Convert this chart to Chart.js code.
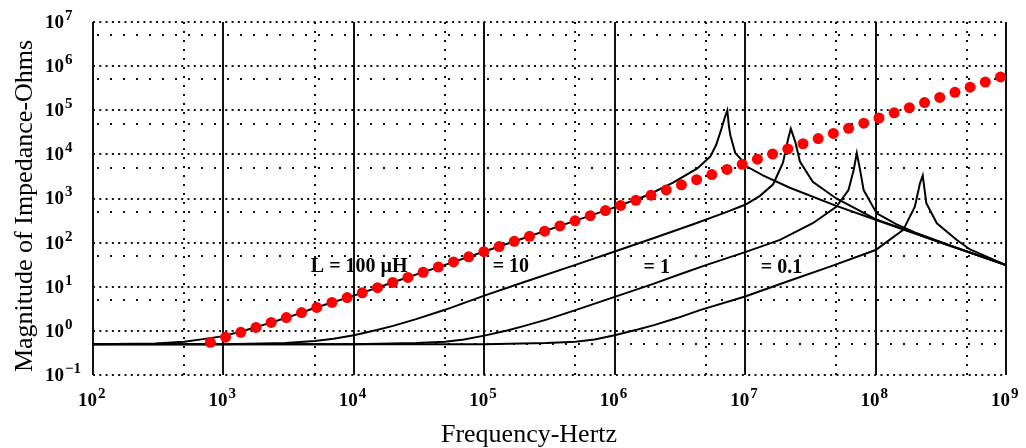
<!DOCTYPE html>
<html>
<head>
<meta charset="utf-8">
<title>Inductor impedance</title>
<script src="https://cdn.jsdelivr.net/npm/chart.js@4.4.0/dist/chart.umd.min.js"></script>
<style>
    html, body { margin: 0; padding: 0; background: #fff; }
    #wrap { position: relative; width: 1026px; height: 448px; }
</style>
</head>
<body>
<div id="wrap"><canvas id="impedanceChart"></canvas></div>
<script>
// frequency in Hz, impedance in ohms

const freq100uH = [1e2, 3e2, 5e2, 7e2, 1e3, 1.5e3, 2e3, 3e3, 5e3, 1e4, 2e4, 5e4, 1e5, 2e5, 5e5, 1e6,
    1.8e6, 2.8e6, 4.3e6, 5.4e6, 6.0e6, 6.6e6, 7.0e6, 7.3e6, 7.5e6, 7.7e6, 8.4e6, 9.4e6, 1.03e7,
    1.38e7, 2.2e7, 5e7, 1e8, 3e8, 1e9];
const imp100uH = [0.5, 0.52, 0.57, 0.65, 0.76, 1.05, 1.35, 1.95, 3.3, 6.3, 12.6, 31.4, 63, 126, 316, 630,
    1200, 2300, 4800, 8900, 16500, 39000, 70000, 100000, 45000, 27000, 10700, 7500, 5300,
    3300, 1750, 680, 330, 106, 31];

const freq10uH = [1e2, 1e3, 3e3, 5e3, 7e3, 1e4, 1.5e4, 2e4, 3e4, 5e4, 1e5, 2e5, 5e5, 1e6, 2e6, 4e6,
    7e6, 1e7, 1.3e7, 1.64e7, 1.95e7, 2.14e7, 2.24e7, 2.42e7, 2.63e7, 3.3e7, 5e7, 1e8, 3e8, 1e9];
const imp10uH = [0.5, 0.5, 0.53, 0.59, 0.66, 0.8, 1.05, 1.3, 1.85, 3.0, 6.3, 12.6, 31.4, 63, 127, 260,
    480, 720, 1150, 2100, 6500, 23000, 38000, 19500, 6900, 2400, 1000, 340, 106, 31];

const freq1uH = [1e2, 1e4, 3e4, 5e4, 7e4, 1e5, 1.5e5, 2e5, 3e5, 5e5, 1e6, 2e6, 3.2e6, 5e6, 1e7, 1.85e7,
    3.3e7, 5e7, 6.2e7, 6.8e7, 7.18e7, 7.6e7, 8.1e7, 1.02e8, 1.45e8, 2e8, 4e8, 1e9];
const imp1uH = [0.5, 0.5, 0.53, 0.57, 0.64, 0.78, 1.02, 1.28, 1.8, 2.95, 5.9, 11.8, 19.5, 31, 61, 115,
    275, 650, 1550, 4500, 10700, 4500, 1550, 460, 260, 170, 80, 31];

const freq01uH = [1e2, 1e5, 3e5, 5e5, 7e5, 1e6, 1.5e6, 2e6, 3e6, 4.5e6, 1e7, 2e7, 4.47e7, 1e8, 1.63e8,
    2.0e8, 2.19e8, 2.3e8, 2.45e8, 2.95e8, 4.2e8, 5.3e8, 1e9];
const imp01uH = [0.5, 0.5, 0.53, 0.57, 0.64, 0.8, 1.07, 1.35, 1.95, 2.95, 6.0, 12.5, 28.5, 68, 195,
    650, 2200, 3300, 780, 275, 115, 70, 31];

// red dots: 100 uH without the winding capacitance
const dotFreq = [794, 1039, 1358, 1776, 2323, 3037, 3972, 5194, 6792, 8882,
    11610, 15190, 19860, 25970, 33960, 44410, 58080, 75950, 99310, 129900,
    169800, 222100, 290400, 379800, 496600, 649400, 849200, 1.11e6, 1.452e6, 1.899e6,
    2.483e6, 3.248e6, 4.246e6, 5.553e6, 7.261e6, 9.495e6, 1.242e7, 1.624e7, 2.123e7, 2.776e7,
    3.631e7, 4.748e7, 6.209e7, 8.12e7, 1.062e8, 1.388e8, 1.816e8, 2.374e8, 3.105e8, 4.06e8,
    5.309e8, 6.942e8, 9.078e8];
const dotImp = [0.55, 0.72, 0.93, 1.2, 1.55, 2.0, 2.6, 3.4, 4.4, 5.7,
    7.3, 9.5, 12.5, 16.3, 21.3, 27.9, 36.5, 47.7, 62.4, 81.6,
    107, 139, 182, 239, 312, 408, 533, 697, 912, 1190,
    1560, 2040, 2670, 3490, 4560, 5960, 7800, 10200, 13300, 17400,
    22800, 29800, 39000, 51000, 66700, 87200, 114000, 149000, 195000, 255000,
    333000, 436000, 570000];

// axis ticks
const xMajor = [1e2, 1e3, 1e4, 1e5, 1e6, 1e7, 1e8, 1e9];
const xExp = ["2", "3", "4", "5", "6", "7", "8", "9"];
const xMinor = [5e2, 5e3, 5e4, 5e5, 5e6, 5e7, 5e8];
const yMajor = [1e-1, 1, 1e1, 1e2, 1e3, 1e4, 1e5, 1e6, 1e7];
const yExp = ["-1", "0", "1", "2", "3", "4", "5", "6", "7"];
const yMinor = [0.5, 5, 50, 500, 5e3, 5e4, 5e5, 5e6];

// curve labels
const curveLabels = ["L = 100 \u00b5H", "= 10", "= 1", "= 0.1"];
const labelFreq = [1.1e4, 1.6e5, 2.1e6, 1.9e7];
const labelImp = [29, 28, 27, 27];

function toPoints(xs, ys) {
    return xs.map(function (v, i) { return { x: v, y: ys[i] }; });
}

function curve(xs, ys) {
    return {
        data: toPoints(xs, ys),
        borderColor: "#000",
        borderWidth: 2,
        pointRadius: 0,
        tension: 0,
        fill: false,
    };
}

const serif = "'Liberation Serif', 'Times New Roman', serif";

function dottedLine(ctx, x1, y1, x2, y2, dash) {
    ctx.setLineDash(dash);
    ctx.beginPath();
    ctx.moveTo(x1, y1);
    ctx.lineTo(x2, y2);
    ctx.stroke();
}

const paperGrid = {
    id: "paperGrid",
    beforeDatasetsDraw(chart) {
        const ctx = chart.ctx;
        const a = chart.chartArea;
        const x = chart.scales.x;
        const y = chart.scales.y;
        ctx.save();
        ctx.strokeStyle = "#111";
        ctx.lineWidth = 2;
        yMajor.forEach(function (v) {
            const py = Math.round(y.getPixelForValue(v));
            dottedLine(ctx, a.left, py, a.right, py, [2, 4.3]);
        });
        yMinor.forEach(function (v) {
            const py = Math.round(y.getPixelForValue(v));
            dottedLine(ctx, a.left + 4, py, a.right, py, [2, 11]);
        });
        xMinor.forEach(function (v) {
            const px = Math.round(x.getPixelForValue(v));
            dottedLine(ctx, px, a.top, px, a.bottom, [2, 7]);
        });
        xMajor.forEach(function (v) {
            const px = Math.round(x.getPixelForValue(v));
            dottedLine(ctx, px, a.top, px, a.bottom, []);
        });
        ctx.restore();
    },
    afterDraw(chart) {
        const ctx = chart.ctx;
        const a = chart.chartArea;
        const x = chart.scales.x;
        const y = chart.scales.y;
        ctx.save();
        ctx.fillStyle = "#000";
        ctx.textBaseline = "middle";

        // y tick labels
        yMajor.forEach(function (v, i) {
            const py = y.getPixelForValue(v);
            ctx.textAlign = "left";
            ctx.font = "bold 19px " + serif;
            ctx.fillText("10", 45, py + 1);
            ctx.font = "bold 15px " + serif;
            ctx.fillText(yExp[i].replace("-", "\u2212"), 65, py - 6);
        });

        // x tick labels
        xMajor.forEach(function (v, i) {
            const px = x.getPixelForValue(v);
            ctx.textAlign = "right";
            ctx.font = "bold 19px " + serif;
            ctx.fillText("10", px + 4, a.bottom + 26);
            ctx.textAlign = "left";
            ctx.font = "bold 15px " + serif;
            ctx.fillText(xExp[i], px + 5, a.bottom + 19);
        });

        // axis titles
        ctx.textAlign = "center";
        ctx.font = "26px " + serif;
        ctx.fillText("Frequency-Hertz", 529, 435);
        ctx.save();
        ctx.translate(25, 206);
        ctx.rotate(-Math.PI / 2);
        ctx.fillText("Magnitude of Impedance-Ohms", 0, 0);
        ctx.restore();

        // curve labels
        ctx.font = "bold 20px " + serif;
        curveLabels.forEach(function (t, i) {
            ctx.fillText(t, x.getPixelForValue(labelFreq[i]), y.getPixelForValue(labelImp[i]));
        });
        ctx.restore();
    },
};

new Chart(document.getElementById("impedanceChart"), {
    type: "line",
    data: {
        datasets: [
            {
                data: toPoints(dotFreq, dotImp),
                showLine: false,
                pointRadius: 5.5,
                pointBackgroundColor: "#ff0000",
                pointBorderWidth: 0,
            },
            curve(freq100uH, imp100uH),
            curve(freq10uH, imp10uH),
            curve(freq1uH, imp1uH),
            curve(freq01uH, imp01uH),
        ],
    },
    options: {
        responsive: true,
        maintainAspectRatio: false,
        animation: false,
        layout: {
            padding: { left: 93, right: 20, top: 22, bottom: 73 },
        },
        scales: {
            x: { type: "logarithmic", min: 1e2, max: 1e9, display: false },
            y: { type: "logarithmic", min: 1e-1, max: 1e7, display: false },
        },
        plugins: {
            legend: { display: false },
            tooltip: { enabled: false },
        },
    },
    plugins: [paperGrid],
});
</script>
</body>
</html>
